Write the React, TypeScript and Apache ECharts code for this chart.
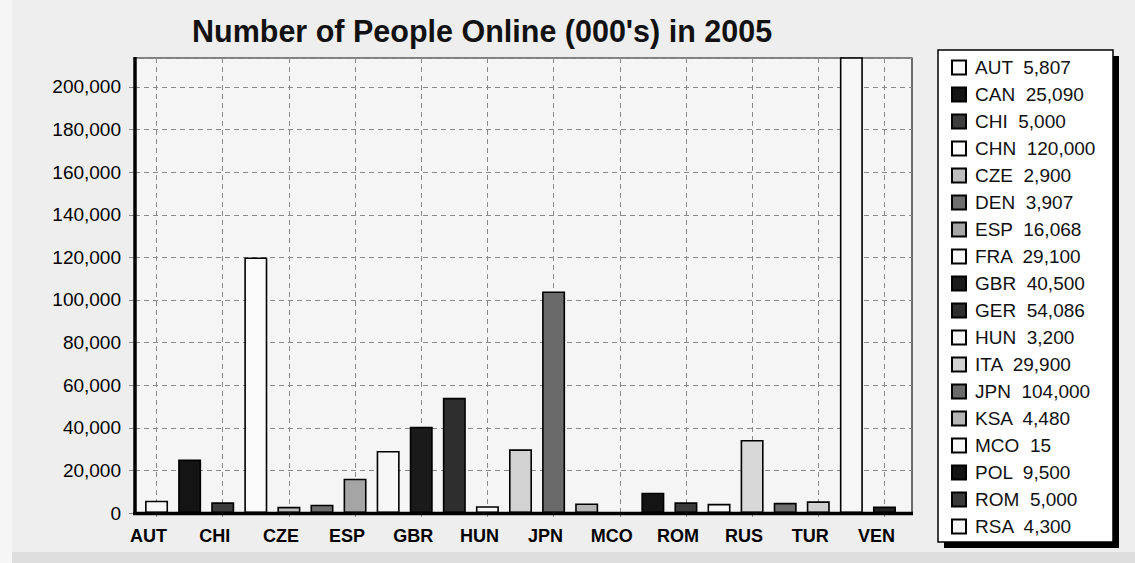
import React, { useEffect, useRef } from "react";
import * as echarts from "echarts";

// ---- data ----
const categories = [
  "AUT", "CAN", "CHI", "CHN", "CZE", "DEN", "ESP", "FRA", "GBR", "GER", "HUN", "ITA",
  "JPN", "KSA", "MCO", "POL", "ROM", "RSA", "RUS", "SWE", "TUR", "USA", "VEN",
];
const values = [
  5807, 25090, 5000, 120000, 2900, 3907, 16068, 29100, 40500, 54086, 3200, 29900,
  104000, 4480, 15, 9500, 5000, 4300, 34300, 4800, 5500, 225000, 3000,
];
const legendNames = categories.slice(0, 18);
const gridCategories = categories.filter((_, i) => i % 2 === 0);
const yMin = 0;
const yMax = 213600;
const yInterval = 20000;
const titleText = "Number of People Online (000's) in 2005";

// ---- styles ----
const barColors = [
  "#f7f7f7", "#141414", "#3c3c3c", "#fafafa", "#bdbdbd", "#6e6e6e", "#a5a5a5", "#f7f7f7",
  "#1a1a1a", "#2e2e2e", "#f7f7f7", "#d2d2d2", "#6a6a6a", "#b5b5b5", "#f7f7f7", "#141414",
  "#3a3a3a", "#f7f7f7", "#d8d8d8", "#6e6e6e", "#d0d0d0", "#f7f7f7", "#222222",
];
const FONT = "'Liberation Sans', Arial, sans-serif";
const GRID_LINE = { type: [5, 4] as number[], color: "#8a8a8a", width: 1 };
const fmt = (v: number) => v.toLocaleString("en-US");

export default function App() {
  const ref = useRef<HTMLDivElement>(null);
  useEffect(() => {
    if (!ref.current) return;
    const chart = echarts.init(ref.current, null, { renderer: "svg" });
    const valueByName: Record<string, number> = {};
    categories.forEach((c, i) => (valueByName[c] = values[i]));

    const series: any[] = categories.map((name, i) => ({
      name,
      type: "bar",
      stack: "all",
      xAxisIndex: 0,
      yAxisIndex: 0,
      barWidth: 23,
      clip: true,
      z: 2,
      data: categories.map((_, j) => (j === i ? values[i] : "-")),
      itemStyle: { color: barColors[i], borderColor: "#000", borderWidth: 1.6 },
      emphasis: { disabled: true },
    }));
    series[0].markLine = {
      z: 1,
      silent: true,
      symbol: ["none", "none"],
      label: { show: false },
      lineStyle: GRID_LINE,
      emphasis: { disabled: true },
      data: gridCategories.map((c) => ({ xAxis: c })),
    };

    chart.setOption({
      animation: false,
      backgroundColor: "#eeeeee",
      textStyle: { fontFamily: FONT },
      title: {
        text: titleText,
        left: 187,
        top: 10,
        textStyle: { fontSize: 30.5, fontWeight: "bold", color: "#111", fontFamily: FONT },
      },
      legend: {
        type: "plain",
        orient: "vertical",
        left: 946,
        top: 53,
        itemWidth: 14,
        itemHeight: 14,
        itemGap: 8,
        icon: "rect",
        data: legendNames,
        selectedMode: false,
        formatter: (name: string) => `${name}  ${fmt(valueByName[name])}`,
        textStyle: { fontSize: 19, color: "#111", fontFamily: FONT, padding: [0, 0, 0, 4] },
      },
      grid: [
        { left: 140, right: 234, top: 58, bottom: 50, show: false },
        { left: 135, right: 223, top: 58, bottom: 50, show: false },
      ],
      xAxis: [
        {
          type: "category",
          gridIndex: 0,
          data: categories,
          axisLine: { show: false },
          axisTick: { show: true, alignWithLabel: true, length: 4, lineStyle: { color: "#888" } },
          axisLabel: {
            interval: 1,
            fontSize: 18,
            fontWeight: "bold",
            color: "#000",
            margin: 14,
            padding: [0, 16, 0, 0],
            fontFamily: FONT,
          },
          splitLine: { show: false },
        },
        { type: "value", gridIndex: 1, show: false, min: 0, max: 1 },
      ],
      yAxis: [
        { type: "value", gridIndex: 0, min: yMin, max: yMax, show: false, splitLine: { show: false } },
        {
          type: "value",
          gridIndex: 1,
          min: yMin,
          max: yMax,
          interval: yInterval,
          axisLine: { show: false },
          axisTick: { show: true, length: 6, lineStyle: { color: "#888" } },
          axisLabel: {
            fontSize: 19,
            color: "#000",
            margin: 14,
            showMaxLabel: false,
            fontFamily: FONT,
            formatter: (v: number) => fmt(v),
          },
          splitLine: { show: true, lineStyle: GRID_LINE },
        },
      ],
      graphic: [
        { type: "rect", z: -20, shape: { x: 0, y: 552, width: 1135, height: 11 }, style: { fill: "#dedede" } },
        { type: "rect", z: -20, shape: { x: 0, y: 0, width: 12, height: 563 }, style: { fill: "#f6f6f6" } },
        {
          type: "rect",
          z: -10,
          shape: { x: 135, y: 58, width: 777, height: 455 },
          style: { fill: "#f5f5f5", stroke: "#111", lineWidth: 1.2 },
        },
        { type: "line", z: 50, shape: { x1: 135, y1: 57, x2: 135, y2: 515 }, style: { stroke: "#000", lineWidth: 3.5 } },
        { type: "line", z: 50, shape: { x1: 133, y1: 513.5, x2: 913, y2: 513.5 }, style: { stroke: "#000", lineWidth: 3.5 } },
        { type: "rect", z: -5, shape: { x: 944, y: 56, width: 175, height: 492 }, style: { fill: "#000" } },
        {
          type: "rect",
          z: -4,
          shape: { x: 938, y: 50, width: 175, height: 492 },
          style: { fill: "#ffffff", stroke: "#000", lineWidth: 1.5 },
        },
      ],
      series,
    });
    return () => chart.dispose();
  }, []);
  return (
    <div
      ref={ref}
      style={{ position: "fixed", left: 0, top: 0, width: 1135, height: 563 }}
    />
  );
}
